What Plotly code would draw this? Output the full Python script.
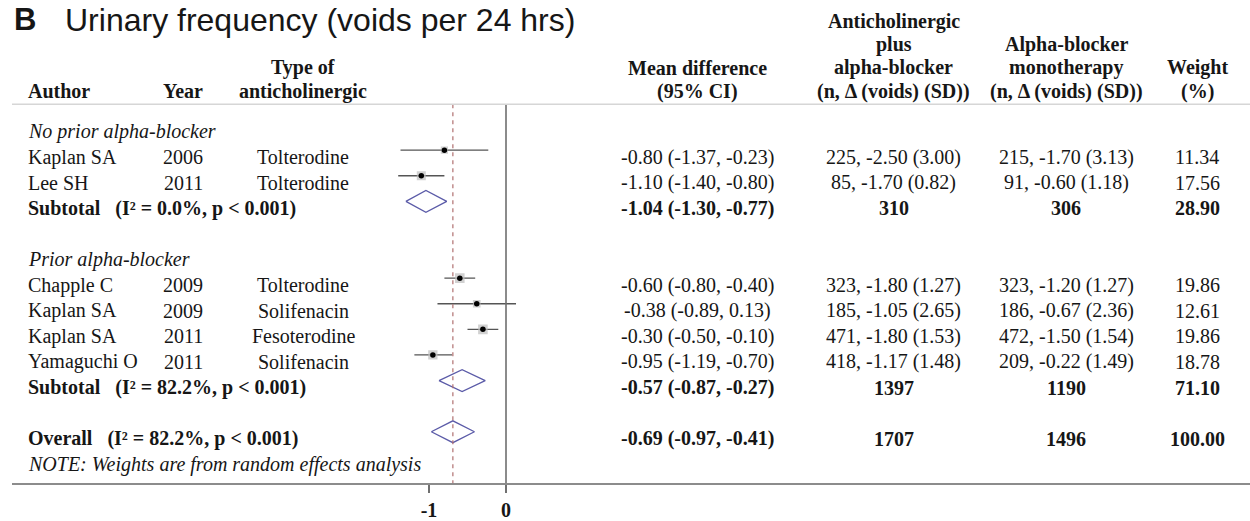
import plotly.graph_objects as go

# ---------------- data ----------------
authors = ["Kaplan SA", "Lee SH", "Chapple C", "Kaplan SA", "Kaplan SA", "Yamaguchi O"]
years = [2006, 2011, 2009, 2009, 2011, 2011]
drugs = ["Tolterodine", "Tolterodine", "Tolterodine", "Solifenacin", "Fesoterodine", "Solifenacin"]
groups = [0, 0, 1, 1, 1, 1]
md = [-0.80, -1.10, -0.60, -0.38, -0.30, -0.95]
ci_lo = [-1.37, -1.40, -0.80, -0.89, -0.50, -1.19]
ci_hi = [-0.23, -0.80, -0.40, 0.13, -0.10, -0.70]
combo_n = [225, 85, 323, 185, 471, 418]
combo_d = [-2.50, -1.70, -1.80, -1.05, -1.80, -1.17]
combo_sd = [3.00, 0.82, 1.27, 2.65, 1.53, 1.48]
mono_n = [215, 91, 323, 186, 472, 209]
mono_d = [-1.70, -0.60, -1.20, -0.67, -1.50, -0.22]
mono_sd = [3.13, 1.18, 1.27, 2.36, 1.54, 1.49]
weights = [11.34, 17.56, 19.86, 12.61, 19.86, 18.78]

group_labels = ["No prior alpha-blocker", "Prior alpha-blocker"]
sub_md = [-1.04, -0.57]
sub_lo = [-1.30, -0.87]
sub_hi = [-0.77, -0.27]
sub_i2 = ["0.0", "82.2"]
sub_n1 = [310, 1397]
sub_n2 = [306, 1190]
sub_w = ["28.90", "71.10"]

ov_md, ov_lo, ov_hi = -0.69, -0.97, -0.41
ov_i2 = "82.2"
ov_n1, ov_n2, ov_w = 1707, 1496, "100.00"

tick_vals = [-1, 0]
tick_text = ["<b>-1</b>", "<b>0</b>"]

# ---------------- layout constants ----------------
W, H = 1250, 521
X0PIX, PXU = 506.0, 77.0          # pixel of x=0, pixels per unit
LEFT, AXIS_Y, HEAD_Y = 12, 487, 105
ROW0, PITCH = 132.5, 25.8
MK_OFF = 7                          # markers sit slightly above text centre
SERIF = "Liberation Serif"
FS = 20
TXT = "#161616"

col_author = 26
col_year = 183
col_type = 303
col_md = 697
col_n1 = 894
col_n2 = 1066
col_w = 1197


def row_y(i):
    return ROW0 + PITCH * i


# assign rows
r = 0
study_rows = [None] * len(authors)
sub_rows = [None, None]
group_rows = [None, None]
for g in range(2):
    group_rows[g] = r
    r += 1
    for k in range(len(authors)):
        if groups[k] == g:
            study_rows[k] = r
            r += 1
    sub_rows[g] = r
    r += 2
overall_row = sub_rows[1] + 2
note_row = overall_row + 1

fig = go.Figure()

# CI lines
cx, cy = [], []
for k in range(len(authors)):
    y = row_y(study_rows[k]) - MK_OFF
    cx += [ci_lo[k], ci_hi[k], None]
    cy += [y, y, None]
fig.add_trace(go.Scatter(x=cx, y=cy, mode="lines",
                         line=dict(color="#555555", width=1.3),
                         hoverinfo="skip", showlegend=False))

# weight squares
sq_y = [row_y(study_rows[k]) - MK_OFF for k in range(len(authors))]
fig.add_trace(go.Scatter(x=md, y=sq_y, mode="markers",
                         marker=dict(symbol="square", color="#bdbdbd",
                                     size=[2.15 * (w ** 0.5) for w in weights],
                                     line=dict(width=0)),
                         hoverinfo="skip", showlegend=False))
fig.add_trace(go.Scatter(x=md, y=sq_y, mode="markers",
                         marker=dict(symbol="circle", color="#000000", size=5.5),
                         hoverinfo="skip", showlegend=False))


# diamonds
def diamond(est, lo, hi, yc, h=11):
    return [lo, est, hi, est, lo], [yc, yc - h, yc, yc + h, yc]


for g in range(2):
    dx, dy = diamond(sub_md[g], sub_lo[g], sub_hi[g], row_y(sub_rows[g]) - MK_OFF)
    fig.add_trace(go.Scatter(x=dx, y=dy, mode="lines",
                             line=dict(color="#5b5ba8", width=1.3),
                             hoverinfo="skip", showlegend=False))
dx, dy = diamond(ov_md, ov_lo, ov_hi, row_y(overall_row) - MK_OFF)
fig.add_trace(go.Scatter(x=dx, y=dy, mode="lines",
                         line=dict(color="#5b5ba8", width=1.3),
                         hoverinfo="skip", showlegend=False))

# reference lines
fig.add_shape(type="line", xref="x", yref="y", x0=0, x1=0, y0=HEAD_Y, y1=AXIS_Y,
              line=dict(color="#6e6e6e", width=1.6))
fig.add_shape(type="line", xref="x", yref="y", x0=ov_md, x1=ov_md, y0=HEAD_Y, y1=AXIS_Y,
              line=dict(color="#b07070", width=1.2, dash="4px,4px"))
# header rule
fig.add_shape(type="line", xref="paper", yref="y", x0=LEFT / W, x1=1, y0=HEAD_Y, y1=HEAD_Y,
              line=dict(color="#d6d6d6", width=1.5))

ann = []


def txt(x, y, s, anchor="center", bold=False, italic=False, size=FS, family=SERIF,
        yanchor="middle"):
    if bold:
        s = "<b>" + s + "</b>"
    if italic:
        s = "<i>" + s + "</i>"
    ann.append(dict(x=x / W, y=y, xref="paper", yref="y", text=s, showarrow=False,
                    xanchor=anchor, yanchor=yanchor,
                    font=dict(family=family, size=size, color=TXT)))


# title
txt(12, 0, "<b>B</b>", anchor="left", size=31, family="Liberation Sans", yanchor="top")
txt(63, 0, "Urinary frequency (voids per 24 hrs)", anchor="left", size=32,
    family="Liberation Sans", yanchor="top")

# headers
hl = [22, 45, 68.5, 92]
txt(col_author, hl[3], "Author", anchor="left", bold=True)
txt(col_year, hl[3], "Year", bold=True)
txt(col_type, hl[2], "Type of", bold=True)
txt(col_type, hl[3], "anticholinergic", bold=True)
txt(col_md, hl[2], "Mean difference", bold=True)
txt(col_md, hl[3], "(95% CI)", bold=True)
txt(col_n1, hl[0], "Anticholinergic", bold=True)
txt(col_n1, hl[1], "plus", bold=True)
txt(col_n1, hl[2], "alpha-blocker", bold=True)
txt(col_n1, hl[3], "(n, \u0394 (voids) (SD))", bold=True)
txt(col_n2, hl[1], "Alpha-blocker", bold=True)
txt(col_n2, hl[2], "monotherapy", bold=True)
txt(col_n2, hl[3], "(n, \u0394 (voids) (SD))", bold=True)
txt(col_w, hl[2], "Weight", bold=True)
txt(col_w, hl[3], "(%)", bold=True)

# group labels
for g in range(2):
    txt(col_author, row_y(group_rows[g]), group_labels[g], anchor="left", italic=True)

# studies
for k in range(len(authors)):
    y = row_y(study_rows[k])
    txt(col_author, y, authors[k], anchor="left")
    txt(col_year, y, str(years[k]))
    txt(col_type, y, drugs[k])
    txt(col_md, y, f"{md[k]:.2f} ({ci_lo[k]:.2f}, {ci_hi[k]:.2f})")
    txt(col_n1, y, f"{combo_n[k]}, {combo_d[k]:.2f} ({combo_sd[k]:.2f})")
    txt(col_n2, y, f"{mono_n[k]}, {mono_d[k]:.2f} ({mono_sd[k]:.2f})")
    txt(col_w, y, f"{weights[k]:.2f}")

# subtotals
for g in range(2):
    y = row_y(sub_rows[g])
    txt(col_author, y, f"Subtotal\u00a0\u00a0\u00a0(I\u00b2 = {sub_i2[g]}%, p &lt; 0.001)",
        anchor="left", bold=True)
    txt(col_md, y, f"{sub_md[g]:.2f} ({sub_lo[g]:.2f}, {sub_hi[g]:.2f})", bold=True)
    txt(col_n1, y, str(sub_n1[g]), bold=True)
    txt(col_n2, y, str(sub_n2[g]), bold=True)
    txt(col_w, y, sub_w[g], bold=True)

# overall
y = row_y(overall_row)
txt(col_author, y, f"Overall\u00a0\u00a0\u00a0(I\u00b2 = {ov_i2}%, p &lt; 0.001)", anchor="left", bold=True)
txt(col_md, y, f"{ov_md:.2f} ({ov_lo:.2f}, {ov_hi:.2f})", bold=True)
txt(col_n1, y, str(ov_n1), bold=True)
txt(col_n2, y, str(ov_n2), bold=True)
txt(col_w, y, ov_w, bold=True)

txt(col_author, row_y(note_row), "NOTE: Weights are from random effects analysis",
    anchor="left", italic=True)

fig.update_layout(
    width=W, height=H,
    margin=dict(l=0, r=0, t=0, b=0),
    paper_bgcolor="white", plot_bgcolor="white",
    showlegend=False,
    annotations=ann,
    xaxis=dict(domain=[LEFT / W, 1],
               range=[(LEFT - X0PIX) / PXU, (W - X0PIX) / PXU],
               showgrid=False, zeroline=False,
               showline=True, linecolor="#8c8c8c", linewidth=2,
               ticks="outside", ticklen=8, tickwidth=1.5, tickcolor="#707070",
               tickvals=tick_vals, ticktext=tick_text,
               tickfont=dict(family=SERIF, size=FS, color=TXT),
               fixedrange=True),
    yaxis=dict(domain=[(H - AXIS_Y) / H, 1], range=[AXIS_Y, 0],
               visible=False, fixedrange=True),
)

fig.write_html("out.html")
